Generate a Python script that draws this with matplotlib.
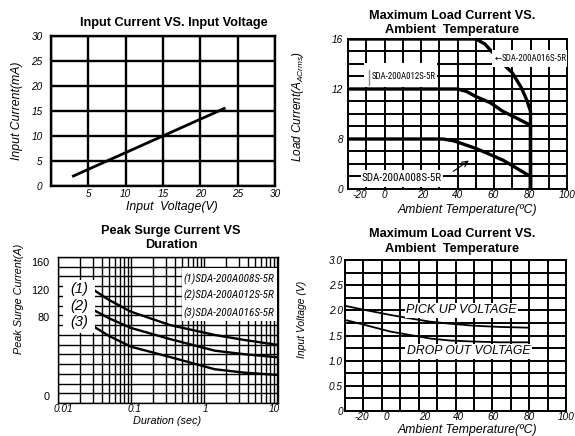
import os
import numpy as np
import matplotlib
matplotlib.use('Agg')
import matplotlib.pyplot as plt
from matplotlib import font_manager
from matplotlib.font_manager import FontProperties
from matplotlib.patches import Rectangle
from matplotlib.ticker import NullFormatter

W, H = 575, 436

# input current vs input voltage
vin = [3, 23.2]
iin = [2, 15.5]

# max load current vs ambient temperature (A rms)
temp_008 = [-20, 32, 38, 43, 50, 58, 65, 72, 80, 80]
load_008 = [8, 8, 7.7, 7.2, 6.5, 5.5, 4.6, 3.4, 2.0, 0]
temp_012 = [-20, 40, 45, 50, 58, 65, 72, 80, 80]
load_012 = [12, 12, 11.8, 11.4, 10.9, 10.2, 9.7, 9.1, 0]
temp_016 = [-20, 50, 55, 60, 65, 70, 75, 78, 80, 80]
load_016 = [16, 16, 15.6, 14.8, 14.0, 13.3, 12.1, 11.1, 10.2, 0]
temp_ticks = ['-20', '0', '20', '40', '60', '80', '100']
load_ticks = ['0', '8', '12', '16']

# peak surge current vs duration
dur = [0.032, 0.05, 0.1, 0.34, 1.4, 3.6, 10.3]
surge_1 = [118.3, 104.8, 87.7, 71.9, 61.8, 56.7, 51.7]
surge_2 = [89.2, 78.7, 68.9, 57.7, 45.9, 42.3, 39.2]
surge_3 = [69.6, 60.8, 49.9, 39.5, 27.1, 23.6, 21.3]
dur_ticks = ['0.01', '0.1', '1', '10']
surge_ticks = ['0', '80', '120', '160']
models = ['SDA-200A008S-5R', 'SDA-200A012S-5R', 'SDA-200A016S-5R']

# pick up / drop out voltage vs ambient temperature
t_v = [-20, -8.2, 4.4, 15.3, 26.2, 37, 49.7, 64.2, 80]
v_pick = [2.09, 2.0, 1.91, 1.84, 1.775, 1.735, 1.695, 1.67, 1.655]
v_drop = [1.81, 1.70, 1.58, 1.51, 1.44, 1.40, 1.38, 1.365, 1.365]
volt_ticks = ['0', '0.5', '1.0', '1.5', '2.0', '2.5', '3.0']

plt.rcParams['font.family'] = ['Liberation Sans', 'DejaVu Sans']
plt.rcParams['mathtext.fontset'] = 'custom'
plt.rcParams['mathtext.rm'] = 'Liberation Sans'
plt.rcParams['mathtext.it'] = 'Liberation Sans:italic'

# narrowest sans available for the part-number labels
stems = {os.path.splitext(os.path.basename(f.fname))[0]: f.fname
         for f in font_manager.fontManager.ttflist}


def narrow(italic):
    if italic:
        keys = ['NotoSans-ExtraCondensedItalic', 'LiberationSansNarrow-Italic',
                'RobotoCondensed-Italic', 'NotoSans-CondensedItalic',
                'DejaVuSansCondensed-Oblique']
    else:
        keys = ['NotoSans-ExtraCondensed', 'LiberationSansNarrow-Regular',
                'RobotoCondensed-Regular', 'NotoSans-Condensed', 'DejaVuSansCondensed']
    for k in keys:
        if k in stems:
            return FontProperties(fname=stems[k])
    return FontProperties(family='DejaVu Sans', stretch='condensed',
                          style='italic' if italic else 'normal')


fig = plt.figure(figsize=(W / 100, H / 100), dpi=100)
renderer = fig.canvas.get_renderer()


def fit(s, fp, width_px):
    fp = fp.copy()
    fp.set_size(10)
    w = renderer.get_text_width_height_descent(s, fp, ismath=False)[0]
    fp.set_size(10 * width_px / w)
    return fp


def px(x, y):
    return x / W, 1 - y / H


def make_ax(l, t, r, b):
    return fig.add_axes([l / W, 1 - b / H, (r - l) / W, (b - t) / H])


def grid(ax, xs, ys, lw):
    ax.set_xticks(xs, minor=True)
    ax.set_yticks(ys, minor=True)
    ax.xaxis.set_minor_formatter(NullFormatter())
    ax.yaxis.set_minor_formatter(NullFormatter())
    ax.xaxis.remove_overlapping_locs = False
    ax.yaxis.remove_overlapping_locs = False
    ax.grid(which='minor', color='black', lw=lw)
    ax.grid(which='major', visible=False)
    ax.tick_params(which='both', length=0, labelsize=7.2)
    ax.set_axisbelow(True)
    for s in ax.spines.values():
        s.set_linewidth(lw)
    for lab in ax.get_xticklabels() + ax.get_yticklabels():
        lab.set_fontstyle('italic')


def ftext(x, y, s, **kw):
    fig.text(*px(x, y), s, ha='center', va='center', **kw)


TITLE = dict(fontsize=9.2, fontweight='bold')

# ---------------- panel 1
ax1 = make_ax(51, 36, 275, 186)
ax1.plot(vin, iin, color='black', lw=2)
ax1.set_xlim(0, 30)
ax1.set_ylim(0, 30)
ax1.set_xticks([5, 10, 15, 20, 25, 30])
ax1.set_yticks([0, 5, 10, 15, 20, 25, 30])
grid(ax1, np.arange(0, 31, 5), np.arange(0, 31, 5), 1.7)
ax1.tick_params(axis='y', pad=6)
ax1.tick_params(axis='x', pad=2)
ftext(174, 23, 'Input Current VS. Input Voltage', **TITLE)
ftext(17, 111, 'Input Current(mA)', fontsize=8.8, style='italic', rotation=90)
ftext(172, 207, 'Input  Voltage(V)', fontsize=8.8, style='italic')

# ---------------- panel 2
ax2 = make_ax(348, 39, 567, 189)


def f_load(y):
    y = np.asarray(y, float)
    return np.where(y < 8, 4 + y / 2, y)


def i_load(v):
    v = np.asarray(v, float)
    return np.where(v < 8, (v - 4) * 2, v)


ax2.set_yscale('function', functions=(f_load, i_load))
for tt, ll in [(temp_008, load_008), (temp_012, load_012), (temp_016, load_016)]:
    ax2.plot(tt, ll, color='black', lw=2.4, solid_capstyle='butt')
ax2.set_xlim(-20, 100)
ax2.set_ylim(0, 16)
ax2.set_xticks([-13.6, 0.2, 21, 40.3, 59.5, 79.3, 100], temp_ticks)
ax2.set_yticks([0, 8, 12, 16], load_ticks)
grid(ax2, np.arange(-20, 101, 10), i_load(np.arange(4, 16.5, 1)), 1.4)
ax2.tick_params(axis='y', pad=3.5)
ax2.tick_params(axis='x', pad=0.8)

fp_n = narrow(False)
ax2.add_patch(Rectangle((0.658, 0.815), 0.342, 0.114, transform=ax2.transAxes,
                        fc='white', ec='none', zorder=3))
ax2.text(0.70, 0.872, '\u2190', transform=ax2.transAxes, ha='right', va='center',
         fontsize=6, family='DejaVu Sans', zorder=4)
ax2.text(0.70, 0.872, models[2], transform=ax2.transAxes, ha='left', va='center',
         fontproperties=fit(models[2], fp_n, 65), zorder=4)
ax2.add_patch(Rectangle((0.075, 0.682), 0.331, 0.16, transform=ax2.transAxes,
                        fc='white', ec='none', zorder=3))
ax2.plot([0.095, 0.095], [0.69, 0.79], transform=ax2.transAxes, color='0.55', lw=1, zorder=4)
ax2.text(0.40, 0.747, models[1], transform=ax2.transAxes, ha='right', va='center',
         fontproperties=fit(models[1], fp_n, 64), zorder=4)
ax2.add_patch(Rectangle((0.058, 0.015), 0.375, 0.114, transform=ax2.transAxes,
                        fc='white', ec='none', zorder=3))
ax2.text(0.245, 0.072, models[0], transform=ax2.transAxes, ha='center', va='center',
         fontproperties=fit(models[0], fp_n, 79), zorder=4)
ax2.annotate('', xy=(0.562, 0.2), xytext=(0.47, 0.107), xycoords='axes fraction',
             arrowprops=dict(arrowstyle='->', lw=0.8, color='black'), zorder=4)

ftext(451.7, 16, 'Maximum Load Current VS.', **TITLE)
ftext(451.7, 30, 'Ambient  Temperature', **TITLE)
ftext(298.3, 106.7, r'Load Current(A$_{\mathit{ACrms}}$)', fontsize=8.5, style='italic',
      rotation=90)
ftext(467, 209.5, 'Ambient Temperature(\u00baC)', fontsize=8.8, style='italic')

# ---------------- panel 3
ax3 = make_ax(58, 257, 278, 403)
K3 = 0.9875 / 0.6875


def f_surge(y):
    y = np.asarray(y, float)
    return np.where(y >= 80, y, 80 - (80 - y) * K3)


def i_surge(v):
    v = np.asarray(v, float)
    return np.where(v >= 80, v, 80 - (80 - v) / K3)


ax3.set_xscale('log')
ax3.set_yscale('function', functions=(f_surge, i_surge))
for s in (surge_1, surge_2, surge_3):
    ax3.plot(dur, s, color='black', lw=1.7)
ax3.set_xlim(0.01, 10.3)
ax3.set_ylim(-7.1, 167.3)
xg = [k * 10.0 ** d for d in (-2, -1, 0) for k in range(1, 10)] + [10]
yg = i_surge(np.linspace(f_surge(-7.1), 167.3, 16))
ax3.set_xticks([0.0117, 0.1135, 1.06, 9.1], dur_ticks)
ax3.set_yticks([0, 80, 120, 160], surge_ticks)
grid(ax3, xg, yg, 1.0)
for lab in ax3.get_yticklabels():
    lab.set_fontstyle('normal')
    lab.set_fontsize(7.8)
ax3.tick_params(axis='y', pad=6)
ax3.tick_params(axis='x', pad=1)

fp_ni = narrow(True)
ax3.add_patch(Rectangle((0.564, 0.562), 0.431, 0.363, transform=ax3.transAxes,
                        fc='white', ec='none', zorder=3))
for yy, k, s in zip([0.845, 0.738, 0.616], ['(1)', '(2)', '(3)'], models):
    ax3.text(0.982, yy, k + s, transform=ax3.transAxes, ha='right', va='center',
             fontproperties=fit(k + s, fp_ni, 90), zorder=4)
ax3.add_patch(Rectangle((0.023, 0.479), 0.145, 0.363, transform=ax3.transAxes,
                        fc='white', ec='none', zorder=3))
for yy, s in zip([0.781, 0.664, 0.555], ['(1)', '(2)', '(3)']):
    ax3.text(0.095, yy, s, transform=ax3.transAxes, ha='center', va='center',
             fontsize=10.5, style='italic', zorder=4)

ftext(171, 230.7, 'Peak Surge Current VS', **TITLE)
ftext(171, 244.7, 'Duration', **TITLE)
ftext(19.3, 298.8, 'Peak Surge Current(A)', fontsize=7.8, style='italic', rotation=90)
ftext(166.7, 420.5, 'Duration (sec)', fontsize=7.8, style='italic')

# ---------------- panel 4
ax4 = make_ax(345, 260, 566, 411)
ax4.plot(t_v, v_pick, color='black', lw=1.3)
ax4.plot(t_v, v_drop, color='black', lw=1.3)
ax4.set_xlim(-20, 100)
ax4.set_ylim(0, 3)
ax4.set_xticks([-10.9, 2.3, 23.4, 41.5, 60.5, 80.1, 100], temp_ticks)
ax4.set_yticks(np.arange(0, 3.01, 0.5), volt_ticks)
grid(ax4, np.arange(-20, 101, 10), np.arange(0, 3.01, 0.25), 1.4)
ax4.tick_params(axis='y', pad=1.5)
ax4.tick_params(axis='x', pad=1)
box = dict(boxstyle='square,pad=0.12', fc='white', ec='none')
ax4.text(43.3, 2.0, 'PICK UP VOLTAGE', ha='center', va='center', fontsize=9,
         style='italic', bbox=box, zorder=4)
ax4.text(47, 1.185, 'DROP OUT VOLTAGE', ha='center', va='center', fontsize=8.8,
         style='italic', bbox=box, zorder=4)

ftext(451.7, 234, 'Maximum Load Current VS.', **TITLE)
ftext(451.7, 248.7, 'Ambient  Temperature', **TITLE)
ftext(301.7, 319.7, 'Input Voltage (V)', fontsize=7.5, style='italic', rotation=90)
ftext(467, 430, 'Ambient Temperature(\u00baC)', fontsize=8.8, style='italic')

fig.savefig('out.png', dpi=100)
